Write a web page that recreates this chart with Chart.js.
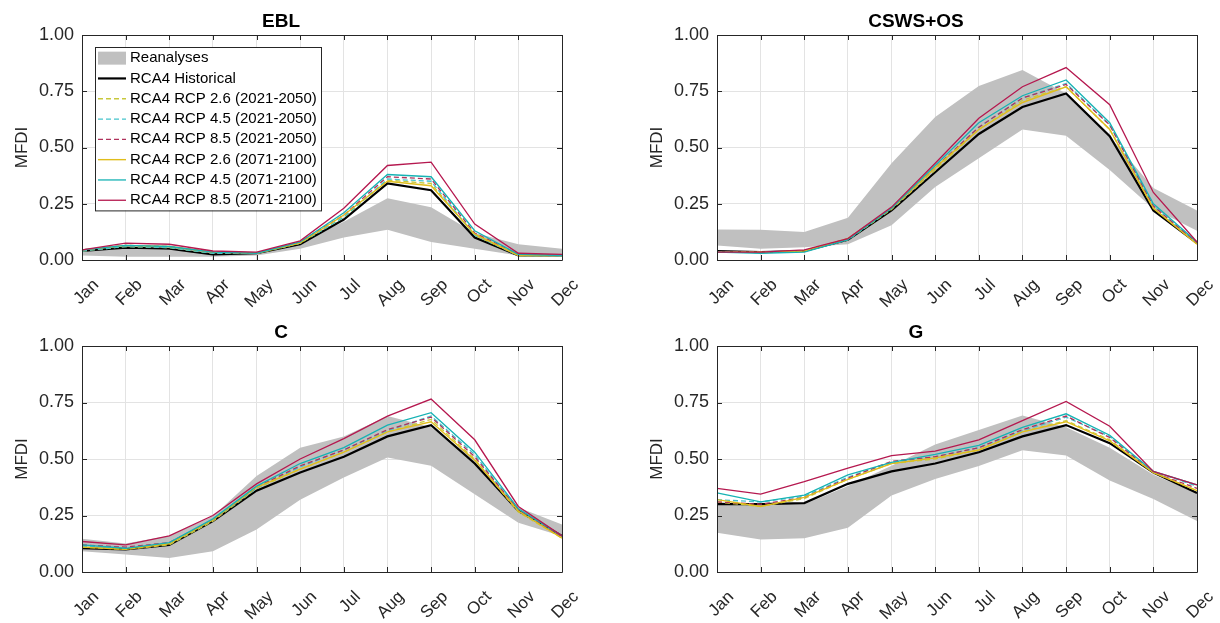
<!DOCTYPE html>
<html>
<head>
<meta charset="utf-8">
<script src="https://cdn.jsdelivr.net/npm/chart.js@4.4.1/dist/chart.umd.min.js"></script>
<style>
  html, body { margin: 0; padding: 0; background: #fff; }
  #wrap { position: relative; width: 1220px; height: 623px; overflow: hidden; }
  canvas { position: absolute; }
</style>
</head>
<body>
<div id="wrap">
  <canvas id="cEBL" width="610" height="311" style="left:0;top:0"></canvas>
  <canvas id="cCSWS" width="610" height="311" style="left:610px;top:0"></canvas>
  <canvas id="cC" width="610" height="312" style="left:0;top:311px"></canvas>
  <canvas id="cG" width="610" height="312" style="left:610px;top:311px"></canvas>
</div>
<script>
const months = ["Jan", "Feb", "Mar", "Apr", "May", "Jun", "Jul", "Aug", "Sep", "Oct", "Nov", "Dec"]
const yTicks = [0, 0.25, 0.5, 0.75, 1]

// EBL
const eblReaLow  = [0.02, 0.015, 0.015, 0.015, 0.02, 0.05, 0.10, 0.135, 0.08, 0.05, 0.02, 0.02]
const eblReaHigh = [0.045, 0.05, 0.045, 0.03, 0.035, 0.08, 0.17, 0.275, 0.235, 0.12, 0.07, 0.05]
const eblHist = [0.04, 0.055, 0.05, 0.025, 0.03, 0.07, 0.18, 0.34, 0.31, 0.10, 0.02, 0.02]
const ebl26a  = [0.04, 0.06, 0.055, 0.03, 0.03, 0.075, 0.19, 0.355, 0.34, 0.11, 0.02, 0.02]
const ebl45a  = [0.04, 0.06, 0.055, 0.03, 0.03, 0.075, 0.19, 0.36, 0.35, 0.11, 0.02, 0.02]
const ebl85a  = [0.045, 0.065, 0.06, 0.035, 0.03, 0.08, 0.20, 0.37, 0.36, 0.12, 0.025, 0.02]
const ebl26b  = [0.045, 0.065, 0.06, 0.035, 0.03, 0.075, 0.20, 0.35, 0.33, 0.115, 0.02, 0.02]
const ebl45b  = [0.045, 0.065, 0.06, 0.035, 0.03, 0.08, 0.21, 0.38, 0.37, 0.13, 0.025, 0.02]
const ebl85b  = [0.045, 0.075, 0.07, 0.04, 0.035, 0.085, 0.23, 0.42, 0.435, 0.16, 0.03, 0.025]

// CSWS+OS
const cswsReaLow  = [0.064, 0.05, 0.057, 0.07, 0.154, 0.325, 0.452, 0.58, 0.552, 0.40, 0.228, 0.13]
const cswsReaHigh = [0.136, 0.134, 0.124, 0.188, 0.43, 0.636, 0.773, 0.845, 0.74, 0.55, 0.32, 0.22]
const cswsHist = [0.04, 0.035, 0.04, 0.09, 0.22, 0.39, 0.56, 0.68, 0.74, 0.55, 0.22, 0.075]
const csws26a  = [0.035, 0.035, 0.04, 0.09, 0.225, 0.40, 0.58, 0.71, 0.77, 0.58, 0.23, 0.075]
const csws45a  = [0.035, 0.035, 0.04, 0.09, 0.23, 0.41, 0.59, 0.72, 0.785, 0.60, 0.24, 0.075]
const csws85a  = [0.035, 0.035, 0.04, 0.095, 0.23, 0.41, 0.59, 0.72, 0.78, 0.60, 0.24, 0.075]
const csws26b  = [0.035, 0.035, 0.04, 0.095, 0.23, 0.41, 0.58, 0.70, 0.77, 0.58, 0.23, 0.07]
const csws45b  = [0.035, 0.03, 0.035, 0.09, 0.23, 0.42, 0.61, 0.73, 0.80, 0.61, 0.25, 0.08]
const csws85b  = [0.035, 0.035, 0.045, 0.095, 0.235, 0.43, 0.63, 0.77, 0.855, 0.69, 0.30, 0.08]

// C
const cReaLow  = [0.092, 0.077, 0.062, 0.092, 0.188, 0.32, 0.418, 0.507, 0.47, 0.344, 0.218, 0.158]
const cReaHigh = [0.147, 0.126, 0.16, 0.247, 0.425, 0.55, 0.60, 0.69, 0.64, 0.50, 0.285, 0.21]
const cHist = [0.105, 0.10, 0.12, 0.225, 0.36, 0.44, 0.51, 0.60, 0.65, 0.48, 0.27, 0.16]
const c26a  = [0.11, 0.10, 0.12, 0.225, 0.37, 0.455, 0.53, 0.62, 0.675, 0.50, 0.265, 0.15]
const c45a  = [0.115, 0.105, 0.125, 0.23, 0.37, 0.465, 0.54, 0.625, 0.69, 0.52, 0.27, 0.16]
const c85a  = [0.12, 0.11, 0.13, 0.23, 0.375, 0.47, 0.54, 0.63, 0.685, 0.51, 0.275, 0.155]
const c26b  = [0.11, 0.10, 0.125, 0.23, 0.375, 0.455, 0.53, 0.62, 0.665, 0.495, 0.27, 0.15]
const c45b  = [0.12, 0.105, 0.13, 0.235, 0.38, 0.48, 0.55, 0.65, 0.705, 0.53, 0.28, 0.16]
const c85b  = [0.135, 0.12, 0.16, 0.25, 0.39, 0.50, 0.59, 0.69, 0.765, 0.585, 0.29, 0.16]

// G
const gReaLow  = [0.174, 0.144, 0.149, 0.196, 0.338, 0.412, 0.469, 0.539, 0.516, 0.405, 0.323, 0.226]
const gReaHigh = [0.31, 0.30, 0.30, 0.38, 0.47, 0.564, 0.628, 0.692, 0.64, 0.55, 0.43, 0.35]
const gHist = [0.30, 0.30, 0.305, 0.39, 0.445, 0.48, 0.53, 0.60, 0.65, 0.57, 0.44, 0.35]
const g26a  = [0.31, 0.29, 0.325, 0.41, 0.48, 0.50, 0.54, 0.62, 0.67, 0.585, 0.44, 0.36]
const g45a  = [0.32, 0.31, 0.335, 0.42, 0.485, 0.51, 0.55, 0.625, 0.685, 0.60, 0.445, 0.38]
const g85a  = [0.31, 0.30, 0.33, 0.415, 0.49, 0.51, 0.55, 0.63, 0.69, 0.595, 0.44, 0.37]
const g26b  = [0.32, 0.29, 0.33, 0.41, 0.48, 0.505, 0.54, 0.62, 0.665, 0.58, 0.44, 0.36]
const g45b  = [0.35, 0.31, 0.34, 0.43, 0.485, 0.52, 0.56, 0.64, 0.70, 0.605, 0.445, 0.385]
const g85b  = [0.37, 0.345, 0.40, 0.46, 0.515, 0.535, 0.585, 0.67, 0.755, 0.645, 0.445, 0.385]

const seriesStyle = [
  { label: "RCA4 Historical", color: "#000000", width: 2.2, dash: [] },
  { label: "RCA4 RCP 2.6 (2021-2050)", color: "#c8c83c", width: 1.3, dash: [5, 3] },
  { label: "RCA4 RCP 4.5 (2021-2050)", color: "#45c3cc", width: 1.3, dash: [5, 3] },
  { label: "RCA4 RCP 8.5 (2021-2050)", color: "#b0325c", width: 1.3, dash: [5, 3] },
  { label: "RCA4 RCP 2.6 (2071-2100)", color: "#e0bd1c", width: 1.4, dash: [] },
  { label: "RCA4 RCP 4.5 (2071-2100)", color: "#16b2b4", width: 1.3, dash: [] },
  { label: "RCA4 RCP 8.5 (2071-2100)", color: "#b5184f", width: 1.3, dash: [] }
]

const FONT = "'Liberation Sans', Arial, Helvetica, sans-serif"
const AXIS_COLOR = "#262626"

//Axes box with inward tick marks, drawn over the data like MATLAB does
const framePlugin = {
  id: "frame",
  afterDatasetsDraw(chart) {
    const { ctx, chartArea: a, scales: { x, y } } = chart
    ctx.save()
    ctx.strokeStyle = AXIS_COLOR
    ctx.lineWidth = 1
    ctx.beginPath()
    ctx.rect(Math.round(a.left) + 0.5, Math.round(a.top) + 0.5, Math.round(a.right - a.left), Math.round(a.bottom - a.top))
    for (let i = 0; i < months.length; i++) {
      const px = Math.round(x.getPixelForValue(i)) + 0.5
      ctx.moveTo(px, a.bottom); ctx.lineTo(px, a.bottom - 5)
      ctx.moveTo(px, a.top); ctx.lineTo(px, a.top + 5)
    }
    yTicks.forEach(v => {
      const py = Math.round(y.getPixelForValue(v)) + 0.5
      ctx.moveTo(a.left, py); ctx.lineTo(a.left + 5, py)
      ctx.moveTo(a.right, py); ctx.lineTo(a.right - 5, py)
    })
    ctx.stroke()
    ctx.restore()
  }
}

//Boxed legend in the upper left of the first panel
const legendPlugin = {
  id: "boxLegend",
  afterDraw(chart) {
    if (!chart.options.plugins.boxLegend.show) return
    const { ctx, chartArea: a } = chart
    const x0 = a.left + 13, y0 = a.top + 12, w = 226, rowH = 20.3
    const items = chart.data.datasets.filter(ds => ds.label)
    const h = items.length * rowH + 1
    ctx.save()
    ctx.fillStyle = "#ffffff"
    ctx.fillRect(x0, y0, w, h)
    ctx.strokeStyle = AXIS_COLOR
    ctx.lineWidth = 1
    ctx.strokeRect(Math.round(x0) + 0.5, Math.round(y0) + 0.5, w, h)
    ctx.font = "15px " + FONT
    ctx.textBaseline = "middle"
    items.forEach((ds, i) => {
      const cy = y0 + rowH * i + rowH / 2 + 1
      if (ds.fill) {
        ctx.fillStyle = ds.backgroundColor
        ctx.fillRect(x0 + 3, cy - 6.5, 28, 13)
      } else {
        ctx.strokeStyle = ds.borderColor
        ctx.lineWidth = ds.borderWidth
        ctx.setLineDash(ds.borderDash)
        ctx.beginPath()
        ctx.moveTo(x0 + 3, cy); ctx.lineTo(x0 + 31, cy)
        ctx.stroke()
        ctx.setLineDash([])
      }
      ctx.fillStyle = "#000000"
      ctx.fillText(ds.label, x0 + 35, cy)
    })
    ctx.restore()
  }
}

function makePanel(canvasId, title, reaLow, reaHigh, lines, padLeft, padRight, showLegend) {
  const datasets = [
    { label: "", data: reaLow, borderWidth: 0, pointRadius: 0, fill: false, order: 20 },
    { label: "Reanalyses", data: reaHigh, borderWidth: 0, pointRadius: 0, fill: "-1",
      backgroundColor: "#c0c0c0", order: 20 }
  ]
  lines.forEach((values, i) => {
    datasets.push({
      label: seriesStyle[i].label,
      data: values,
      borderColor: seriesStyle[i].color,
      borderWidth: seriesStyle[i].width,
      borderDash: seriesStyle[i].dash,
      pointRadius: 0,
      tension: 0,
      fill: false,
      order: 9 - i
    })
  })

  return new Chart(document.getElementById(canvasId), {
    type: "line",
    data: { labels: months, datasets: datasets },
    options: {
      responsive: false,
      animation: false,
      layout: { padding: { left: padLeft, right: padRight, top: 0, bottom: 0 } },
      plugins: {
        legend: { display: false },
        tooltip: { enabled: false },
        boxLegend: { show: showLegend },
        title: {
          display: true,
          text: title,
          color: "#000000",
          font: { family: FONT, size: 19, weight: "bold", lineHeight: 1.2 },
          padding: { top: 10, bottom: 2.2 }
        }
      },
      scales: {
        x: {
          type: "category",
          offset: false,
          grid: { color: "#e3e3e3", drawTicks: false },
          border: { display: false },
          ticks: {
            autoSkip: false,
            minRotation: 45,
            maxRotation: 45,
            labelOffset: 14,
            padding: 15,
            color: AXIS_COLOR,
            font: { family: FONT, size: 17 }
          },
          afterFit: scale => {
            scale.height = 51
            scale.paddingLeft = 0
            scale.paddingRight = 0
          }
        },
        y: {
          min: 0,
          max: 1,
          grid: { color: "#e3e3e3", drawTicks: false },
          border: { display: false },
          afterBuildTicks: scale => { scale.ticks = yTicks.map(v => ({ value: v })) },
          ticks: {
            padding: 8,
            color: AXIS_COLOR,
            font: { family: FONT, size: 18 },
            callback: v => Number(v).toFixed(2)
          },
          title: {
            display: true,
            text: "MFDI",
            color: AXIS_COLOR,
            font: { family: FONT, size: 17 },
            padding: { top: 12, bottom: 0 }
          },
          afterFit: scale => { scale.width = 82 }
        }
      }
    },
    plugins: [framePlugin, legendPlugin]
  })
}

makePanel("cEBL", "EBL", eblReaLow, eblReaHigh, [eblHist, ebl26a, ebl45a, ebl85a, ebl26b, ebl45b, ebl85b], 0, 48, true)
makePanel("cCSWS", "CSWS+OS", cswsReaLow, cswsReaHigh, [cswsHist, csws26a, csws45a, csws85a, csws26b, csws45b, csws85b], 25, 23, false)
makePanel("cC", "C", cReaLow, cReaHigh, [cHist, c26a, c45a, c85a, c26b, c45b, c85b], 0, 48, false)
makePanel("cG", "G", gReaLow, gReaHigh, [gHist, g26a, g45a, g85a, g26b, g45b, g85b], 25, 23, false)
</script>
</body>
</html>
